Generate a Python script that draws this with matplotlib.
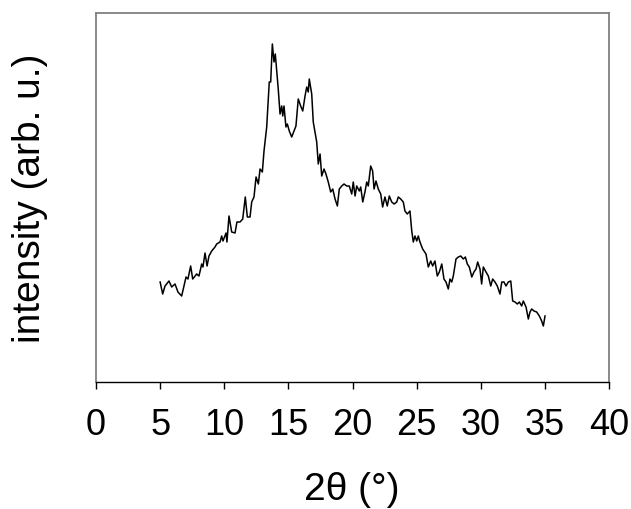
import numpy as np
import matplotlib.pyplot as plt

plt.rcParams['font.family'] = ['Liberation Sans', 'DejaVu Sans']

# 2theta (deg) and intensity (arb. u.)
two_theta = [5.00, 5.20, 5.38, 5.69, 5.90, 6.16, 6.39, 6.68, 7.02, 7.17,
             7.38, 7.54, 7.85, 8.03, 8.24, 8.34, 8.50, 8.66, 8.81, 9.02,
             9.28, 9.41, 9.67, 9.80, 9.90, 10.14, 10.21, 10.37, 10.58, 10.84,
             10.99, 11.23, 11.44, 11.64, 11.80, 12.01, 12.14, 12.32, 12.48, 12.66,
             12.79, 12.97, 13.10, 13.31, 13.51, 13.62, 13.75, 13.88, 13.98, 14.21,
             14.35, 14.48, 14.56, 14.66, 14.81, 14.92, 15.07, 15.26, 15.44, 15.59,
             15.77, 15.96, 16.12, 16.30, 16.43, 16.55, 16.63, 16.82, 16.94, 17.21,
             17.33, 17.47, 17.60, 17.78, 17.93, 18.11, 18.30, 18.46, 18.64, 18.82,
             18.97, 19.16, 19.34, 19.55, 19.75, 19.94, 20.06, 20.20, 20.33, 20.53,
             20.64, 20.80, 20.97, 21.11, 21.23, 21.42, 21.57, 21.68, 21.83, 22.01,
             22.20, 22.35, 22.53, 22.71, 22.87, 23.06, 23.24, 23.45, 23.57, 23.76,
             23.96, 24.09, 24.27, 24.48, 24.62, 24.74, 24.87, 25.01, 25.13, 25.26,
             25.47, 25.73, 25.91, 26.10, 26.25, 26.43, 26.61, 26.77, 26.96, 27.13,
             27.29, 27.47, 27.60, 27.74, 27.86, 28.07, 28.25, 28.44, 28.64, 28.80,
             28.95, 29.11, 29.30, 29.47, 29.63, 29.76, 29.94, 30.07, 30.20, 30.41,
             30.59, 30.78, 30.93, 31.11, 31.29, 31.50, 31.64, 31.81, 31.97, 32.15,
             32.34, 32.49, 32.67, 32.85, 33.01, 33.19, 33.32, 33.53, 33.71, 33.84,
             33.97, 34.15, 34.36, 34.57, 34.75, 34.88, 35.01]
intensity = [100, 88, 96, 101, 95, 98, 90, 86, 105, 103,
             116, 103, 108, 106, 118, 115, 129, 116, 126, 131,
             135, 138, 140, 146, 141, 149, 140, 166, 150, 149,
             160, 160, 163, 185, 165, 165, 180, 185, 205, 198,
             213, 210, 231, 255, 300, 300, 338, 320, 328, 293,
             268, 276, 266, 276, 255, 258, 251, 245, 251, 256,
             283, 276, 271, 286, 295, 290, 303, 288, 260, 240,
             218, 228, 206, 213, 208, 200, 190, 193, 183, 176,
             193, 196, 198, 196, 196, 188, 200, 186, 196, 191,
             195, 180, 190, 200, 196, 216, 211, 193, 201, 193,
             188, 175, 185, 176, 186, 180, 178, 180, 185, 183,
             180, 171, 168, 171, 151, 140, 146, 141, 146, 140,
             133, 128, 115, 121, 116, 121, 106, 110, 118, 103,
             100, 93, 103, 100, 106, 123, 125, 126, 123, 125,
             118, 115, 105, 110, 113, 120, 113, 98, 115, 110,
             106, 96, 103, 100, 96, 88, 100, 100, 96, 100,
             101, 81, 80, 78, 80, 76, 81, 75, 63, 70,
             73, 71, 70, 66, 61, 56, 66]

x_ticks = [0, 5, 10, 15, 20, 25, 30, 35, 40]

fig = plt.figure(figsize=(6.31, 5.10), dpi=100)
ax = fig.add_axes([96/631, 1-383/510, (609-96)/631, (383-14)/510])

ax.plot(two_theta, intensity, color='black', lw=1.1)

ax.set_xlim(0, 40)
ax.set_ylim(0, 369)
ax.set_xticks(x_ticks)
ax.set_yticks([])
ax.tick_params(axis='x', direction='out', length=5, width=1, color='black',
               pad=13, labelsize=26)

for s in ['top', 'left', 'right']:
    ax.spines[s].set_color('#808080')
    ax.spines[s].set_linewidth(1.3)
ax.spines['bottom'].set_color('black')
ax.spines['bottom'].set_linewidth(1.0)

fig.text(352/631, 1-490/510, '2θ (°)', fontsize=28, ha='center', va='center')
fig.text(30/631, 1-198/510, 'intensity (arb. u.)', fontsize=28,
         ha='center', va='center', rotation=90)

fig.savefig('out.png', dpi=100)
